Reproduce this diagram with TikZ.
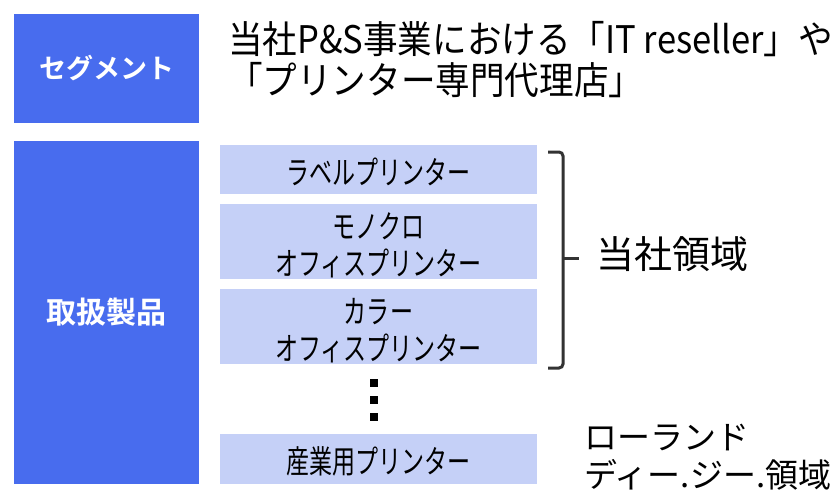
\documentclass[tikz,border=0pt]{standalone}
\usepackage{fontspec}
\setmainfont{Noto Sans CJK JP}
\newfontfamily\jpbold{Noto Sans CJK JP Bold}
\newfontfamily\jpnarrow[FakeStretch=0.72]{Noto Sans CJK JP}
\newfontfamily\jpmid[FakeStretch=0.91]{Noto Sans CJK JP}
\begin{document}
\begin{tikzpicture}[x=1pt,y=-1pt,
  darkbox/.style={fill=blueA,draw=none,text=white},
  lightbox/.style={fill=blueB,draw=none,minimum width=317pt,inner sep=0pt},
  boxtext/.style={text=black,align=center,font=\jpnarrow\fontsize{32}{37}\selectfont,inner sep=0pt},
  plain/.style={text=black,align=left,inner sep=0pt}]
\definecolor{blueA}{HTML}{486CEE}
\definecolor{blueB}{HTML}{C5D0F7}
\definecolor{brk}{HTML}{333333}
\useasboundingbox (0,0) rectangle (838,495);
% left boxes
\node[darkbox,minimum width=185pt,minimum height=109pt,font=\jpbold\fontsize{27}{30}\selectfont] (seg) at (106.5,68.5) {セグメント};
\node[darkbox,minimum width=185pt,minimum height=343pt,font=\jpbold\fontsize{30}{34}\selectfont] (prod) at (106.5,312.5) {取扱製品};
% segment text
\node[plain,anchor=west,font=\jpmid\fontsize{38}{41}\selectfont] (segtxt) at (228,60) {当社P\&S事業における「IT reseller」や\\「プリンター専門代理店」};
% light boxes
\node[lightbox,minimum height=49pt] (label) at (378.5,169.5) {};
\node[lightbox,minimum height=75pt] (mono) at (378.5,241.5) {};
\node[lightbox,minimum height=75pt] (color) at (378.5,326.5) {};
\node[lightbox,minimum height=50pt] (ind) at (378.5,459) {};
\node[boxtext] (labelt) at ([yshift=-2pt]label.center) {ラベルプリンター};
\node[boxtext] (monot) at ([yshift=-4pt]mono.center) {モノクロ\\オフィスプリンター};
\node[boxtext] (colort) at ([yshift=-4pt]color.center) {カラー\\オフィスプリンター};
\node[boxtext] (indt) at ([yshift=-2pt]ind.center) {産業用プリンター};
% dots
\foreach \y/\n in {383/d1,400/d2,417/d3}
  \node[fill=black,minimum size=8pt,inner sep=0pt] (\n) at (374,\y) {};
% bracket
\draw[brk,line width=3pt,rounded corners=4pt] (548,152) -- (563,152) -- (563,368) -- (548,368);
\coordinate (tickA) at (563,258);
\coordinate (tickB) at (579,258);
\draw[brk,line width=3pt] (tickA) -- (tickB);
\node[plain,anchor=west,font=\fontsize{38}{42}\selectfont] (own) at (596,254) {当社領域};
\node[plain,anchor=west,font=\fontsize{33}{38}\selectfont] (roland) at (584,457) {ローランド\\ディー.ジー.領域};
\end{tikzpicture}
\end{document}
